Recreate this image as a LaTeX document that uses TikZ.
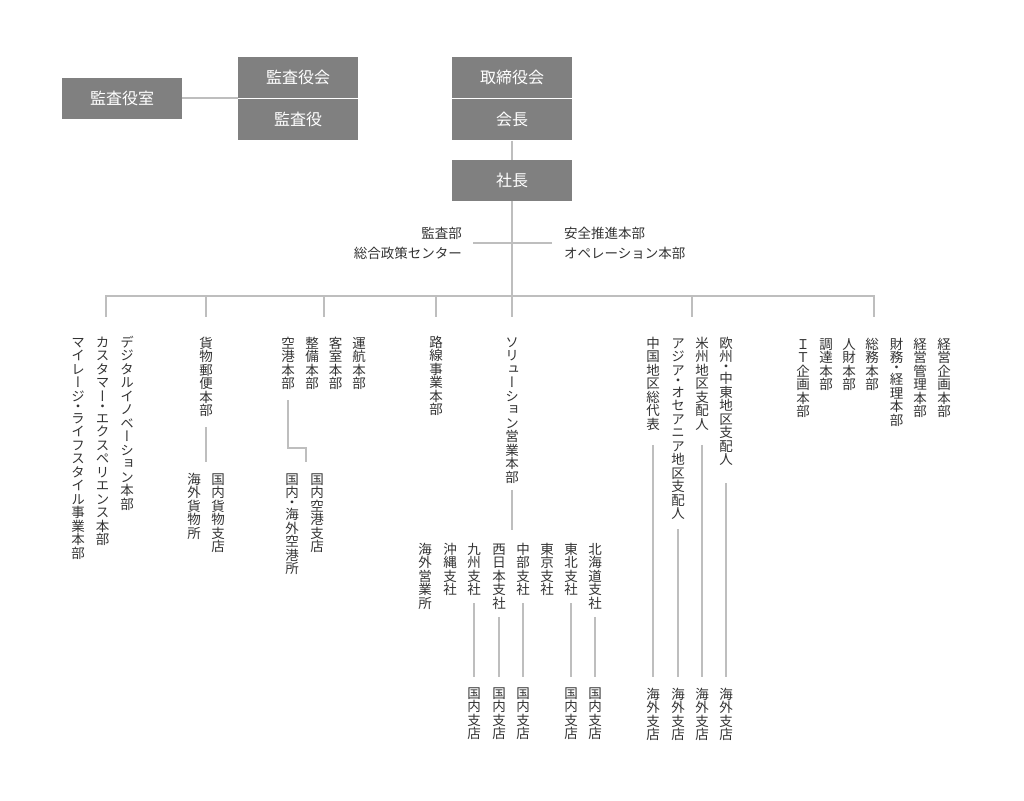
\documentclass[tikz,border=0pt]{standalone}
\usepackage{fontspec}
\setmainfont{Noto Sans CJK JP}
\newfontfamily\tatefont[RawFeature=+vert]{Noto Sans CJK JP}
\usetikzlibrary{positioning, calc}
\definecolor{boxgray}{HTML}{808080}
\definecolor{linegray}{HTML}{BEBEBE}
\definecolor{textgray}{HTML}{333333}

% vertical text: one character per line, the middle dot takes half a line
\makeatletter
\def\tatedot{・}
\newcommand\tatechar[1]{\hbox to 1em{\vrule height .88em depth .12em width 0pt\hss#1\hss}}
\newcommand\tatehalf[1]{\hbox to 1em{\vrule height .5em width 0pt\hss\raise-.13em\hbox{\smash{#1}}\hss}}
\newcommand\tate[1]{\vbox{\offinterlineskip\@tfor\tate@c:=#1\do{%
    \ifx\tate@c\tatedot\tatehalf{\tate@c}\else\tatechar{\tate@c}\fi}}}
\makeatother

\begin{document}
\begin{tikzpicture}[
        x=1pt, y=-1pt,
        orgbox/.style={
            rectangle,
            fill=boxgray,
            text=white,
            minimum width=120pt,
            minimum height=41pt,
            inner sep=0pt,
            font=\fontsize{16}{16}\selectfont
        },
        tatecol/.style={
            inner sep=0pt,
            anchor=north,
            text=textgray,
            font=\tatefont\fontsize{13.5}{13.5}\selectfont
        },
        side/.style={inner sep=0pt, text=textgray, font=\fontsize{13.5}{20}\selectfont},
        link/.style={draw=linegray, line width=2pt}
    ]
    \useasboundingbox (0,0) rectangle (1024,800);

    % --- TOP BOXES ---
    \node (room) [orgbox] at (122,98) {監査役室};
    \node (kaigi) [orgbox] at (298,77.5) {監査役会};
    \node (auditor) [orgbox, below=1pt of kaigi] {監査役};
    \node (board) [orgbox] at (512,77.5) {取締役会};
    \node (chair) [orgbox, below=1pt of board] {会長};
    \node (pres) [orgbox, below=19pt of chair] {社長};

    \node (audit) [side, anchor=east, align=right] at (462,243) {監査部\\総合政策センター};
    \node (safety) [side, anchor=west, align=left] at (564,243) {安全推進本部\\オペレーション本部};

    % --- DIVISIONS ---
    \node (mile) [tatecol] at (78,335) {\tate{マイレージ・ライフスタイル事業本部}};
    \node (cx) [tatecol] at (102.5,335) {\tate{カスタマー・エクスペリエンス本部}};
    \node (digi) [tatecol] at (127,335) {\tate{デジタルイノベーション本部}};

    \node (cargo) [tatecol] at (206,336) {\tate{貨物郵便本部}};
    \node (cargo-out) [tatecol] at (194,472) {\tate{海外貨物所}};
    \node (cargo-in) [tatecol] at (218,472) {\tate{国内貨物支店}};

    \node (airport) [tatecol] at (288,336) {\tate{空港本部}};
    \node (maint) [tatecol] at (312,336) {\tate{整備本部}};
    \node (cabin) [tatecol] at (335.5,336) {\tate{客室本部}};
    \node (flight) [tatecol] at (359,336) {\tate{運航本部}};
    \node (ap-all) [tatecol] at (292,472) {\tate{国内・海外空港所}};
    \node (ap-dom) [tatecol] at (317,472) {\tate{国内空港支店}};

    \node (route) [tatecol] at (436,335) {\tate{路線事業本部}};

    \node (sol) [tatecol] at (512,335) {\tate{ソリューション営業本部}};
    \node (s-abroad) [tatecol] at (425,542) {\tate{海外営業所}};
    \node (s-okinawa) [tatecol] at (450,542) {\tate{沖縄支社}};
    \node (s-kyushu) [tatecol] at (474,542) {\tate{九州支社}};
    \node (s-west) [tatecol] at (499,542) {\tate{西日本支社}};
    \node (s-chubu) [tatecol] at (523,542) {\tate{中部支社}};
    \node (s-tokyo) [tatecol] at (547,542) {\tate{東京支社}};
    \node (s-tohoku) [tatecol] at (571,542) {\tate{東北支社}};
    \node (s-hokkaido) [tatecol] at (595,542) {\tate{北海道支社}};
    \node (b-kyushu) [tatecol] at (474,686) {\tate{国内支店}};
    \node (b-west) [tatecol] at (499,686) {\tate{国内支店}};
    \node (b-chubu) [tatecol] at (523,686) {\tate{国内支店}};
    \node (b-tohoku) [tatecol] at (571,686) {\tate{国内支店}};
    \node (b-hokkaido) [tatecol] at (595,686) {\tate{国内支店}};

    \node (china) [tatecol] at (653,336) {\tate{中国地区総代表}};
    \node (asia) [tatecol] at (678,336) {\tate{アジア・オセアニア地区支配人}};
    \node (america) [tatecol] at (702,336) {\tate{米州地区支配人}};
    \node (europe) [tatecol] at (726,336) {\tate{欧州・中東地区支配人}};
    \node (o-china) [tatecol] at (653,687) {\tate{海外支店}};
    \node (o-asia) [tatecol] at (678,687) {\tate{海外支店}};
    \node (o-america) [tatecol] at (702,687) {\tate{海外支店}};
    \node (o-europe) [tatecol] at (726,687) {\tate{海外支店}};

    \node (it) [tatecol] at (803,337) {\tate{ＩＴ企画本部}};
    \node (procure) [tatecol] at (826,337) {\tate{調達本部}};
    \node (hr) [tatecol] at (849,337) {\tate{人財本部}};
    \node (general) [tatecol] at (872,337) {\tate{総務本部}};
    \node (finance) [tatecol] at (896.5,337) {\tate{財務・経理本部}};
    \node (mgmt) [tatecol] at (920,337) {\tate{経営管理本部}};
    \node (plan) [tatecol] at (944,337) {\tate{経営企画本部}};

    % --- LINES ---
    \draw [link] (room.east) -- (room.east -| kaigi.west);
    \draw [link] (chair) -- (pres);
    \coordinate (d-sol) at (512,317);
    \draw [link] (pres) -- (d-sol);
    \draw [link, shorten <=11pt] (audit.east) -- (audit.east -| pres.south);
    \draw [link, shorten <=12pt] (safety.west) -- (safety.west -| pres.south);

    \coordinate (bus) at (0,296);
    \coordinate (d-digi) at (106,317);
    \coordinate (d-cargo) at (206,317);
    \coordinate (d-ops) at (324,317);
    \coordinate (d-route) at (436,317);
    \coordinate (d-intl) at (692,317);
    \coordinate (d-corp) at (874,317);
    \draw [link] (d-digi) |- (d-corp |- bus) -- (d-corp);
    \draw [link] (d-cargo |- bus) -- (d-cargo);
    \draw [link] (d-ops |- bus) -- (d-ops);
    \draw [link] (d-route |- bus) -- (d-route);
    \draw [link] (d-intl |- bus) -- (d-intl);

    \draw [link, shorten <=10pt, shorten >=10pt] (cargo.south) -- (cargo.south |- cargo-in.north);
    \coordinate (ap-bend) at (306,448);
    \coordinate (ap-end) at (306,462);
    \draw [link, shorten <=10pt] (airport.south) |- (ap-bend) -- (ap-end);

    \draw [link, shorten <=6pt, shorten >=12pt] (sol.south) -- (sol.south |- s-west.north);
    \draw [link, shorten <=7pt, shorten >=9pt] (s-kyushu) -- (b-kyushu);
    \draw [link, shorten <=7pt, shorten >=9pt] (s-west) -- (b-west);
    \draw [link, shorten <=7pt, shorten >=9pt] (s-chubu) -- (b-chubu);
    \draw [link, shorten <=7pt, shorten >=9pt] (s-tohoku) -- (b-tohoku);
    \draw [link, shorten <=7pt, shorten >=9pt] (s-hokkaido) -- (b-hokkaido);

    \draw [link, shorten <=14pt, shorten >=10pt] (china) -- (o-china);
    \draw [link, shorten <=9pt, shorten >=10pt] (asia) -- (o-asia);
    \draw [link, shorten <=14pt, shorten >=10pt] (america) -- (o-america);
    \draw [link, shorten <=17pt, shorten >=10pt] (europe) -- (o-europe);

\end{tikzpicture}
\end{document}
